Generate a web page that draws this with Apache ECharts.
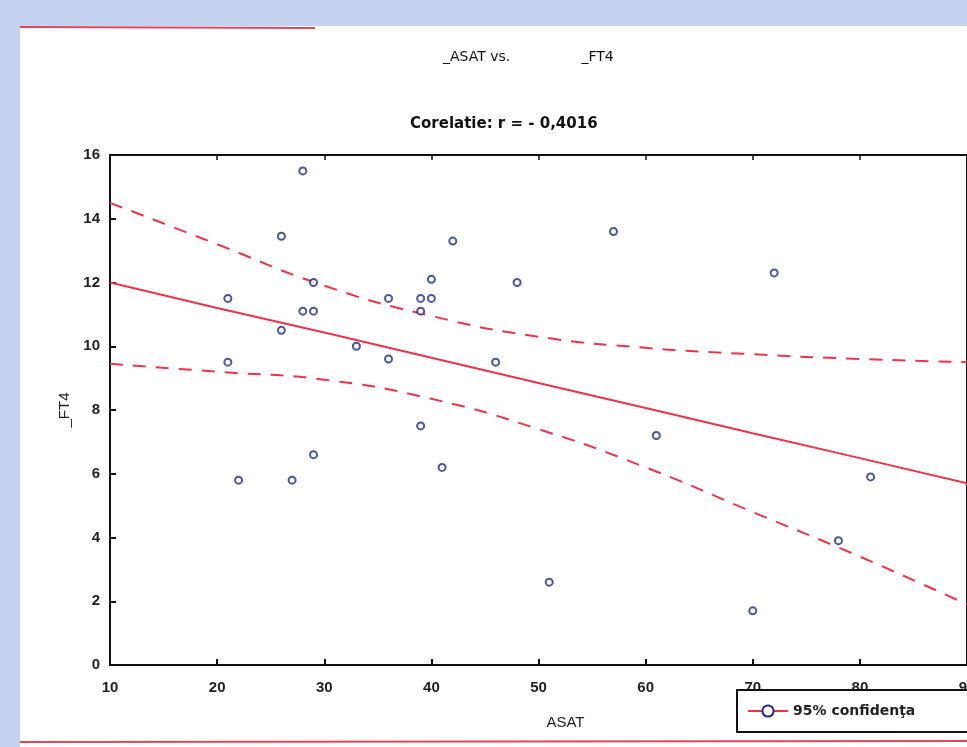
<!DOCTYPE html>
<html>
<head>
<meta charset="utf-8">
<style>
  html, body { margin: 0; padding: 0; background: #c5d3f0; }
  #chart { width: 967px; height: 747px; }
</style>
<script src="https://cdn.jsdelivr.net/npm/echarts@6/dist/echarts.min.js"></script>
</head>
<body>
<div id="chart"></div>
<script>
// ASAT (x) / FT4 (y) puncte
var asat = [28, 26, 21, 21, 22, 26, 27, 28, 29, 29, 29, 33, 36, 36, 39, 39, 39, 40, 40, 41, 42, 46, 48, 51, 57, 61, 70, 72, 78, 81];
var ft4 = [15.5, 13.45, 11.5, 9.5, 5.8, 10.5, 5.8, 11.1, 11.1, 12.0, 6.6, 10.0, 9.6, 11.5, 11.5, 11.1, 7.5, 11.5, 12.1, 6.2, 13.3, 9.5, 12.0, 2.6, 13.6, 7.2, 1.7, 12.3, 3.9, 5.9];

// dreapta de regresie + banda 95%
var fitX = [10, 20, 30, 40, 50, 60, 70, 80, 90];
var fitY = [12.0, 11.2, 10.43, 9.64, 8.85, 8.06, 7.27, 6.49, 5.7];
var upperY = [14.5, 13.2, 11.9, 10.95, 10.3, 9.95, 9.75, 9.6, 9.5];
var lowerY = [9.45, 9.2, 8.95, 8.35, 7.4, 6.2, 4.8, 3.4, 1.9];

function pairs(xs, ys) {
  var out = [];
  for (var i = 0; i < xs.length; i++) out.push([xs[i], ys[i]]);
  return out;
}

var red = '#e8344e';
var blue = '#1f2a80';
var font = 'Liberation Sans, Arial, sans-serif';
var wide = 'DejaVu Sans, sans-serif';

var myChart = echarts.init(document.getElementById('chart'));

var option = {
  backgroundColor: '#c5d3f0',
  animation: false,
  textStyle: { fontFamily: font },
  graphic: [
    { type: 'rect', z: -10, shape: { x: 20, y: 26, width: 947, height: 721 }, style: { fill: '#ffffff' } },
    { type: 'line', z: -9, shape: { x1: 20, y1: 27, x2: 315, y2: 28 }, style: { stroke: '#e0455c', lineWidth: 2 } },
    { type: 'line', z: -9, shape: { x1: 20, y1: 742, x2: 967, y2: 741 }, style: { stroke: '#e0455c', lineWidth: 2 } }
  ],
  title: [
    {
      text: '_ASAT vs.                _FT4',
      left: 438, top: 45,
      textStyle: { fontSize: 14, fontWeight: 'normal', color: '#111', fontFamily: wide }
    },
    {
      text: 'Corelatie: r = - 0,4016',
      left: 405, top: 112,
      textStyle: { fontSize: 15, fontWeight: 'bold', color: '#111', fontFamily: wide }
    }
  ],
  legend: {
    left: 737, top: 690,
    padding: [14, 90, 14, 10],
    borderColor: '#111', borderWidth: 2,
    backgroundColor: '#fff',
    itemWidth: 40, itemHeight: 14,
    textStyle: { fontSize: 14, fontWeight: 'bold', color: '#222', fontFamily: wide },
    data: ['95% confidenţa']
  },
  grid: {
    left: 110, top: 155, right: 0, bottom: 82,
    outerBoundsMode: 'none', containLabel: false,
    show: true, borderColor: '#111', borderWidth: 2, backgroundColor: 'transparent'
  },
  xAxis: [
    {
      type: 'value', min: 10, max: 90, interval: 10,
      name: 'ASAT', nameLocation: 'middle', nameGap: 50,
      nameTextStyle: { fontSize: 15, color: '#222', padding: [0, 0, 0, 54] },
      axisLine: { lineStyle: { color: '#111', width: 2 } },
      axisTick: { inside: true, length: 6, lineStyle: { color: '#111', width: 2 } },
      axisLabel: { fontSize: 15, fontWeight: 'bold', color: '#222', margin: 15 },
      splitLine: { show: false }
    },
    {
      type: 'value', min: 10, max: 90, interval: 10, position: 'top',
      axisLine: { lineStyle: { color: '#111', width: 2 } },
      axisTick: { inside: true, length: 5, lineStyle: { color: '#111', width: 1.5 } },
      axisLabel: { show: false },
      splitLine: { show: false }
    }
  ],
  yAxis: {
    type: 'value', min: 0, max: 16, interval: 2,
    name: '_FT4', nameLocation: 'middle', nameGap: 32,
    nameTextStyle: { fontSize: 15, color: '#222' },
    axisLine: { lineStyle: { color: '#111', width: 2 } },
    axisTick: { inside: true, length: 6, lineStyle: { color: '#111', width: 2 } },
    axisLabel: { fontSize: 15, fontWeight: 'bold', color: '#222', margin: 10 },
    splitLine: { show: false }
  },
  series: [
    {
      name: '95% confidenţa',
      type: 'line',
      data: pairs(fitX, fitY),
      symbol: 'emptyCircle', symbolSize: 7, showSymbol: false,
      itemStyle: { color: blue, borderWidth: 2 },
      lineStyle: { color: red, width: 2 },
      z: 3
    },
    {
      name: 'upper',
      type: 'line', smooth: true,
      data: pairs(fitX, upperY),
      showSymbol: false,
      lineStyle: { color: red, width: 2, type: [13, 10] },
      z: 3
    },
    {
      name: 'lower',
      type: 'line', smooth: true,
      data: pairs(fitX, lowerY),
      showSymbol: false,
      lineStyle: { color: red, width: 2, type: [13, 10] },
      z: 3
    },
    {
      name: 'FT4',
      type: 'scatter',
      data: pairs(asat, ft4),
      symbol: 'emptyCircle', symbolSize: 7,
      itemStyle: { color: blue, borderColor: blue, borderWidth: 2.2 },
      z: 4
    }
  ]
};

myChart.setOption(option);
</script>
</body>
</html>
